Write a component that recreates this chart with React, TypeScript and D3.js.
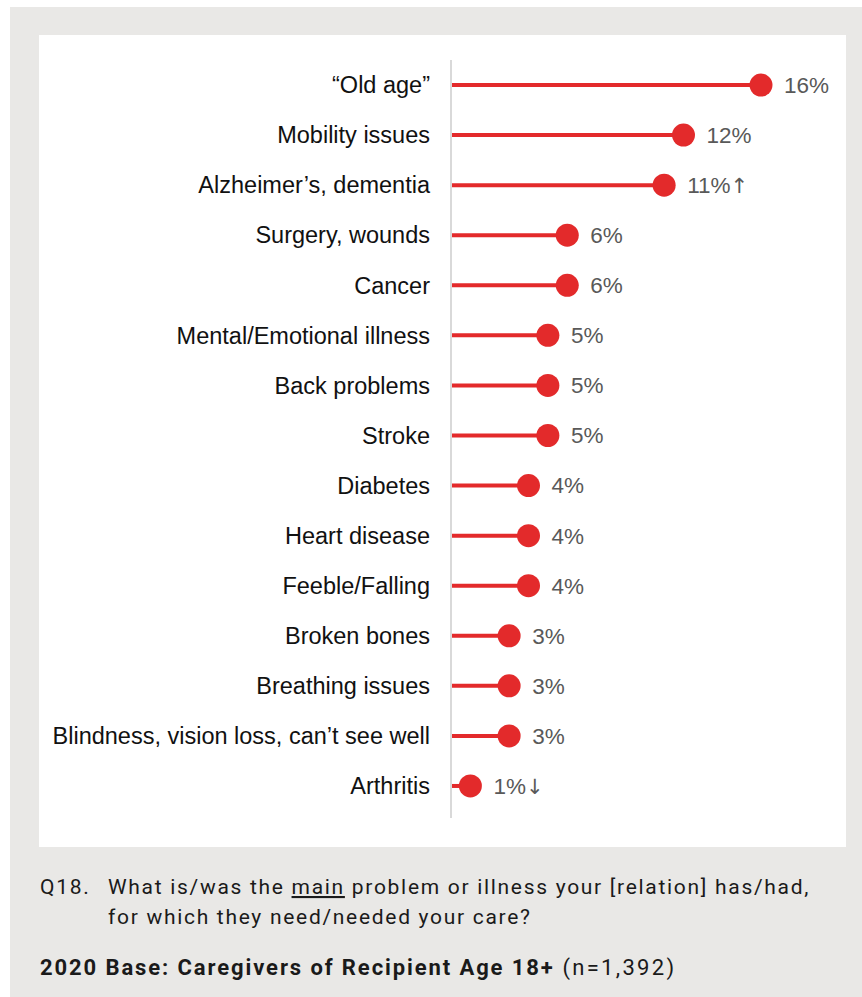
import React, { useEffect, useRef } from 'react';
import * as d3 from 'd3';

const categories = [
  '“Old age”',
  'Mobility issues',
  'Alzheimer’s, dementia',
  'Surgery, wounds',
  'Cancer',
  'Mental/Emotional illness',
  'Back problems',
  'Stroke',
  'Diabetes',
  'Heart disease',
  'Feeble/Falling',
  'Broken bones',
  'Breathing issues',
  'Blindness, vision loss, can’t see well',
  'Arthritis',
];
const values = [16, 12, 11, 6, 6, 5, 5, 5, 4, 4, 4, 3, 3, 3, 1];
const markers = ['', '', '↑', '', '', '', '', '', '', '', '', '', '', '', '↓'];

const W = 862;
const H = 997;
const RED = '#e32a2b';

export default function App() {
  const svgRef = useRef<SVGSVGElement | null>(null);

  useEffect(() => {
    if (!svgRef.current) return;
    const svg = d3.select(svgRef.current);
    svg.selectAll('*').remove();

    // background panels
    svg.append('rect').attr('x', 10).attr('y', 7).attr('width', W - 10).attr('height', H - 7).attr('fill', '#e9e8e6');
    svg.append('rect').attr('x', 39).attr('y', 35).attr('width', 807).attr('height', 812).attr('fill', '#ffffff');

    const x0 = 451;
    const x = d3.scaleLinear().domain([0, 16]).range([x0, 761]);
    const y = d3.scaleBand<string>().domain(categories).range([60, 811]).paddingInner(0).paddingOuter(0);
    const cy = (d: string) => (y(d) ?? 0) + y.bandwidth() / 2;

    svg.append('line')
      .attr('x1', x0).attr('x2', x0).attr('y1', 60).attr('y2', 818)
      .attr('stroke', '#d9d9d9').attr('stroke-width', 2);

    const rows = svg.append('g')
      .selectAll('g')
      .data(categories.map((c, i) => ({ c, v: values[i], m: markers[i] })))
      .join('g');

    rows.append('line')
      .attr('x1', x0 + 1).attr('x2', (d) => x(d.v))
      .attr('y1', (d) => cy(d.c)).attr('y2', (d) => cy(d.c))
      .attr('stroke', RED).attr('stroke-width', 4);

    rows.append('circle')
      .attr('cx', (d) => x(d.v)).attr('cy', (d) => cy(d.c)).attr('r', 11.5)
      .attr('fill', RED);

    rows.append('text')
      .attr('x', 430).attr('y', (d) => cy(d.c)).attr('dy', '0.35em')
      .attr('text-anchor', 'end')
      .attr('font-family', '"Liberation Sans", Arial, sans-serif')
      .attr('font-size', 23.5)
      .attr('fill', '#111')
      .text((d) => d.c);

    const vals = rows.append('text')
      .attr('x', (d) => x(d.v) + 23).attr('y', (d) => cy(d.c)).attr('dy', '0.35em')
      .attr('font-family', '"Liberation Sans", Arial, sans-serif')
      .attr('font-size', 22.5)
      .attr('fill', '#595959');
    vals.append('tspan').text((d) => `${d.v}%`);
    vals.append('tspan')
      .attr('font-family', '"DejaVu Sans", sans-serif')
      .attr('font-size', 21)
      .text((d) => d.m);

    // footnote
    const foot = svg.append('g')
      .attr('font-family', 'Roboto, "Noto Sans", sans-serif')
      .attr('font-size', 21)
      .attr('fill', '#1a1a1a');

    foot.append('text').attr('x', 40).attr('y', 894).attr('letter-spacing', 1.7).text('Q18.');
    const l1 = foot.append('text').attr('x', 108).attr('y', 894).attr('letter-spacing', 1.7);
    l1.append('tspan').text('What is/was the ');
    l1.append('tspan').attr('text-decoration', 'underline').text('main');
    l1.append('tspan').text(' problem or illness your [relation] has/had,');
    foot.append('text').attr('x', 108).attr('y', 924).attr('letter-spacing', 1.7)
      .text('for which they need/needed your care?');

    const l3 = foot.append('text').attr('x', 40).attr('y', 975).attr('font-size', 22);
    l3.append('tspan').attr('font-weight', 'bold').attr('letter-spacing', 1.9)
      .text('2020 Base: Caregivers of Recipient Age 18+');
    l3.append('tspan').attr('letter-spacing', 2.3).text(' (n=1,392)');
  }, []);

  return (
    <svg
      ref={svgRef}
      width={W}
      height={H}
      style={{ position: 'absolute', left: 0, top: 0, display: 'block' }}
    />
  );
}
